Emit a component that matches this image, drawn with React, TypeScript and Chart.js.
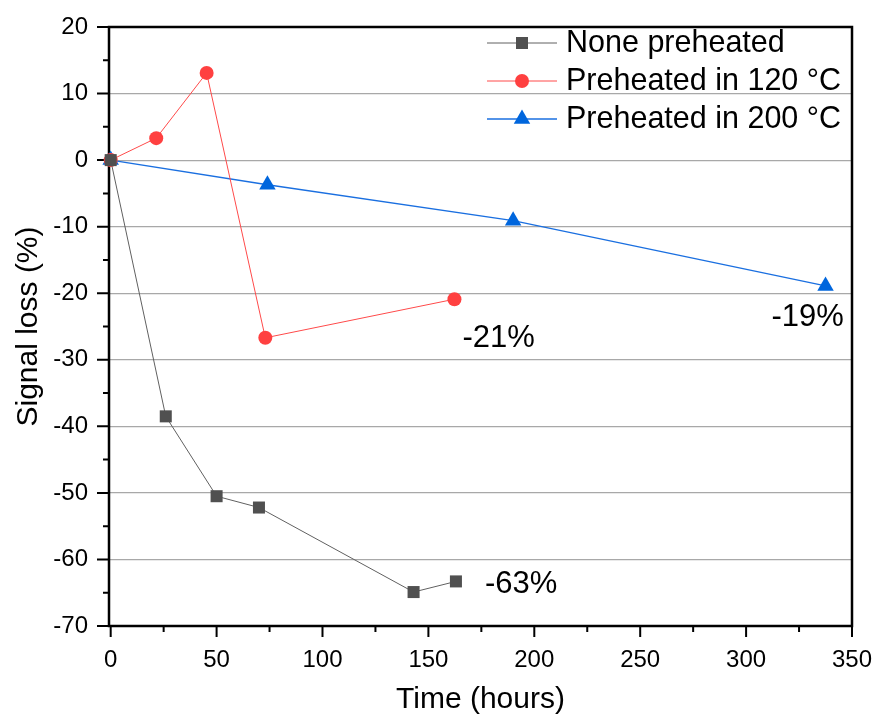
import React, { useEffect, useRef } from 'react';
import { Chart, registerables } from 'chart.js';

Chart.register(...registerables);

const seriesNames = ['None preheated', 'Preheated in 120 °C', 'Preheated in 200 °C'];
const noneX = [0, 26, 50, 70, 143, 163];
const noneY = [0, -38.5, -50.5, -52.2, -64.9, -63.3];
const p120X = [0, 21.5, 45.3, 73, 162.3];
const p120Y = [0, 3.3, 13.1, -26.7, -20.9];
const p200X = [0, 74, 190, 337.5];
const p200Y = [0, -3.7, -9.1, -18.9];
const xTickValues = [0, 50, 100, 150, 200, 250, 300, 350];
const yTickValues = [20, 10, 0, -10, -20, -30, -40, -50, -60, -70];
const endLabels = ['-63%', '-21%', '-19%'];

const colors = ['#505050', '#ff4040', '#0066dd'];
const lineColors = ['#606060', '#ff4a4a', '#1a6fe0'];
const shapes = ['rect', 'circle', 'triangle'];
const radii = [8.5, 7, 9.5];
const labelOffsets = [
  { dx: 29, dy: 3 },
  { dx: 8, dy: 39 },
  { dx: -54, dy: 32 },
];

const FONT = 'Arial, "Liberation Sans", sans-serif';

function drawMarker(ctx: CanvasRenderingContext2D, shape: string, x: number, y: number, r: number, color: string) {
  ctx.save();
  ctx.fillStyle = color;
  ctx.beginPath();
  if (shape === 'rect') {
    const s = r * Math.SQRT1_2;
    ctx.rect(x - s, y - s, 2 * s, 2 * s);
  } else if (shape === 'circle') {
    ctx.arc(x, y, r, 0, Math.PI * 2);
  } else {
    const w = Math.cos(Math.PI / 6) * r;
    ctx.moveTo(x, y - r);
    ctx.lineTo(x + w, y + r / 2);
    ctx.lineTo(x - w, y + r / 2);
    ctx.closePath();
  }
  ctx.fill();
  ctx.restore();
}

const framePlugin = {
  id: 'framePlugin',
  beforeDatasetsDraw(chart: any) {
    const { ctx, chartArea } = chart;
    const { left, right, top, bottom } = chartArea;
    const xs = chart.scales.x;
    const ys = chart.scales.y;
    ctx.save();
    ctx.strokeStyle = '#000';
    ctx.lineWidth = 2;
    ctx.beginPath();
    for (let i = 0; i < yTickValues.length; i++) {
      const py = ys.getPixelForValue(yTickValues[i]);
      ctx.moveTo(left - 12, py);
      ctx.lineTo(left, py);
      if (i < yTickValues.length - 1) {
        const pm = ys.getPixelForValue((yTickValues[i] + yTickValues[i + 1]) / 2);
        ctx.moveTo(left - 6, pm);
        ctx.lineTo(left, pm);
      }
    }
    for (let i = 0; i < xTickValues.length; i++) {
      const px = xs.getPixelForValue(xTickValues[i]);
      ctx.moveTo(px, bottom);
      ctx.lineTo(px, bottom + 11);
      if (i < xTickValues.length - 1) {
        const pm = xs.getPixelForValue((xTickValues[i] + xTickValues[i + 1]) / 2);
        ctx.moveTo(pm, bottom);
        ctx.lineTo(pm, bottom + 6);
      }
    }
    ctx.stroke();
    ctx.lineWidth = 2.5;
    ctx.strokeRect(left, top, right - left, bottom - top);
    ctx.restore();
  },
  afterDraw(chart: any) {
    const { ctx } = chart;
    ctx.save();
    const rowsY = [43, 81, 119];
    for (let i = 0; i < seriesNames.length; i++) {
      const y = rowsY[i];
      ctx.strokeStyle = lineColors[i];
      ctx.lineWidth = i === 2 ? 1.3 : 1;
      ctx.beginPath();
      ctx.moveTo(487, y);
      ctx.lineTo(557, y);
      ctx.stroke();
      drawMarker(ctx, shapes[i], 522, y, radii[i], colors[i]);
      ctx.fillStyle = '#000';
      ctx.font = `30.5px ${FONT}`;
      ctx.textAlign = 'left';
      ctx.textBaseline = 'middle';
      ctx.fillText(seriesNames[i], 566, y + 1);
    }
    const xs = chart.scales.x;
    const ys = chart.scales.y;
    ctx.font = `31px ${FONT}`;
    for (let i = 0; i < chart.data.datasets.length; i++) {
      const d = chart.data.datasets[i].data;
      const last = d[d.length - 1];
      const px = xs.getPixelForValue(last.x);
      const py = ys.getPixelForValue(last.y);
      ctx.fillText(endLabels[i], px + labelOffsets[i].dx, py + labelOffsets[i].dy);
    }
    ctx.restore();
  },
};

function zeroPad(s: any) {
  s.paddingLeft = 0;
  s.paddingRight = 0;
  s.paddingTop = 0;
  s.paddingBottom = 0;
}

export default function App() {
  const ref = useRef<HTMLCanvasElement | null>(null);
  useEffect(() => {
    if (!ref.current) return;
    const mk = (xs: number[], ys: number[]) => xs.map((x, i) => ({ x, y: ys[i] }));
    const dataArr = [mk(noneX, noneY), mk(p120X, p120Y), mk(p200X, p200Y)];
    const chart = new Chart(ref.current, {
      type: 'line',
      data: {
        datasets: dataArr.map((d, i) => ({
          label: seriesNames[i],
          data: d,
          borderColor: lineColors[i],
          backgroundColor: colors[i],
          pointBackgroundColor: colors[i],
          pointBorderWidth: 0,
          pointBorderColor: colors[i],
          pointStyle: shapes[i] as any,
          pointRadius: radii[i],
          borderWidth: i === 2 ? 1.3 : 1,
          tension: 0,
          clip: false as any,
        })),
      },
      options: {
        animation: false,
        responsive: true,
        maintainAspectRatio: false,
        parsing: false as any,
        layout: { padding: { top: 27, right: 24, left: 0, bottom: 0 } },
        plugins: { legend: { display: false }, tooltip: { enabled: false } },
        scales: {
          x: {
            type: 'linear',
            min: -0.8,
            max: 350,
            afterBuildTicks: (s: any) => {
              s.ticks = xTickValues.map((v) => ({ value: v }));
            },
            afterFit: (s: any) => {
              s.height = 92;
              zeroPad(s);
            },
            grid: { display: false, drawTicks: false },
            border: { display: false },
            ticks: {
              color: '#000',
              font: { family: FONT, size: 24 },
              padding: 20,
              maxRotation: 0,
              autoSkip: false,
            },
            title: {
              display: true,
              text: 'Time (hours)',
              color: '#000',
              font: { family: FONT, size: 30 },
              padding: { top: 0, bottom: 0 },
            },
          },
          y: {
            type: 'linear',
            min: -70,
            max: 20,
            afterBuildTicks: (s: any) => {
              s.ticks = yTickValues.map((v) => ({ value: v }));
            },
            afterFit: (s: any) => {
              s.width = 109;
              zeroPad(s);
            },
            grid: {
              drawTicks: false,
              color: (c: any) => (c.tick && (c.tick.value === 20 || c.tick.value === -70) ? 'rgba(0,0,0,0)' : '#a8a8a8'),
              lineWidth: 1.2,
            },
            border: { display: false },
            ticks: {
              color: '#000',
              font: { family: FONT, size: 24 },
              padding: 21,
              autoSkip: false,
            },
            title: {
              display: true,
              text: 'Signal loss (%)',
              color: '#000',
              font: { family: FONT, size: 30 },
              padding: { top: 11, bottom: 0 },
            },
          },
        },
      },
      plugins: [framePlugin],
    });
    return () => chart.destroy();
  }, []);
  return (
    <div style={{ position: 'fixed', left: 0, top: 0, width: 876, height: 718, background: '#fff' }}>
      <canvas ref={ref} />
    </div>
  );
}
